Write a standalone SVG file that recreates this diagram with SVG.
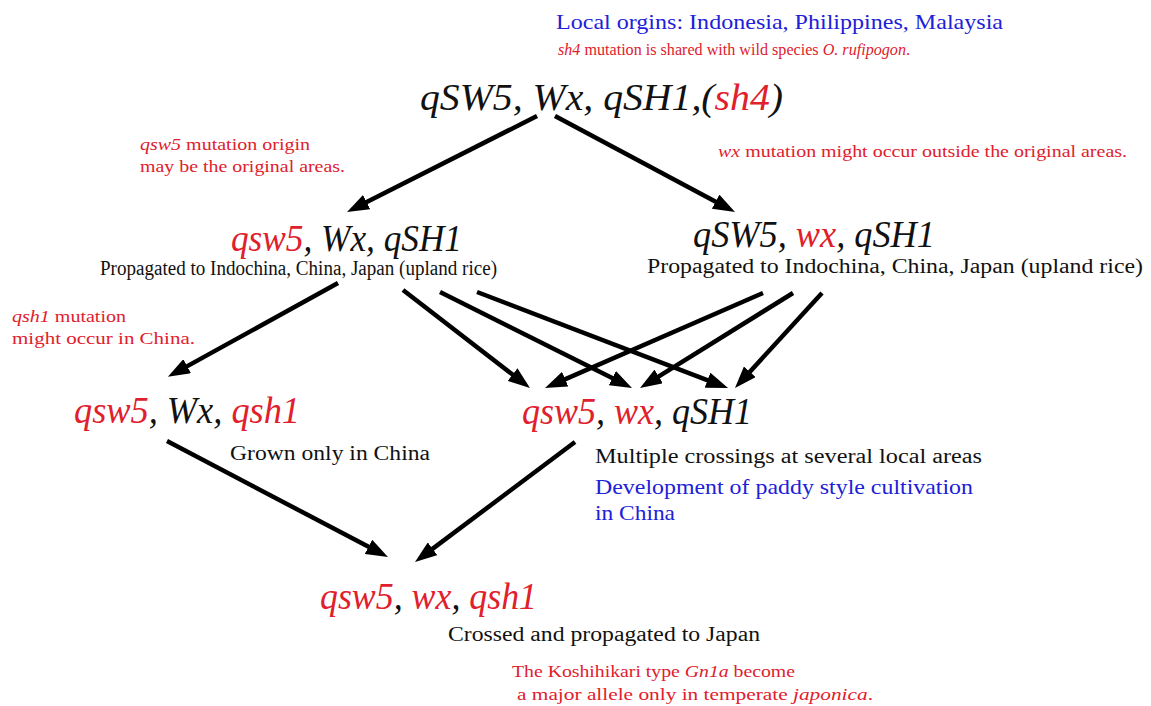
<svg xmlns="http://www.w3.org/2000/svg" width="1151" height="706" viewBox="0 0 1151 706" font-family="Liberation Serif, Times New Roman, Times, serif">
<style>
text{font-family:'Liberation Serif','Times New Roman',Times,serif;fill:#111}
.g{font-size:38px;font-style:italic}
.r{fill:#e0202c}
.b{fill:#2020d8}
.n{font-size:17px}
.d{font-size:20.5px}
.i{font-style:italic}
.c line{stroke:#000;stroke-width:4.5;marker-end:url(#ah)}
</style>
<defs>
<marker id="ah" viewBox="0 0 22 16" markerWidth="22" markerHeight="16" refX="6" refY="8" orient="auto" markerUnits="userSpaceOnUse">
<path d="M0,0 L22,8 L0,16 z" fill="#000"/>
</marker>
</defs>
<rect width="1151" height="706" fill="#fff"/>
<g id="notes">
<text x="556" y="29" class="b" font-size="22" textLength="447" lengthAdjust="spacingAndGlyphs">Local orgins: Indonesia, Philippines, Malaysia</text>
<text x="558" y="55" class="r n" textLength="352" lengthAdjust="spacingAndGlyphs"><tspan class="i">sh4</tspan> mutation is shared with wild species <tspan class="i">O. rufipogon</tspan>.</text>
<text x="140" y="150" class="r n" textLength="170" lengthAdjust="spacingAndGlyphs"><tspan class="i">qsw5</tspan> mutation origin</text>
<text x="140" y="172" class="r n" textLength="205" lengthAdjust="spacingAndGlyphs">may be the original areas.</text>
<text x="718" y="157" class="r n" textLength="409" lengthAdjust="spacingAndGlyphs"><tspan class="i">wx</tspan> mutation might occur outside the original areas.</text>
<text x="12" y="322" class="r n" textLength="114" lengthAdjust="spacingAndGlyphs"><tspan class="i">qsh1</tspan> mutation</text>
<text x="12" y="344" class="r n" textLength="183" lengthAdjust="spacingAndGlyphs">might occur in China.</text>
<text x="512" y="677" class="r n" textLength="283" lengthAdjust="spacingAndGlyphs">The Koshihikari type <tspan class="i">Gn1a</tspan> become</text>
<text x="517" y="700" class="r n" textLength="356" lengthAdjust="spacingAndGlyphs">a major allele only in temperate <tspan class="i">japonica</tspan>.</text>
</g>
<g id="n-top">
<text x="420" y="110" class="g" textLength="363" lengthAdjust="spacingAndGlyphs">qSW5, Wx, qSH1,(<tspan class="r">sh4</tspan>)</text>
</g>
<g id="n-left2">
<text x="231" y="251" class="g" textLength="231" lengthAdjust="spacingAndGlyphs"><tspan class="r">qsw5</tspan>, Wx, qSH1</text>
<text x="100" y="275" class="d" textLength="397" lengthAdjust="spacingAndGlyphs">Propagated to Indochina, China, Japan (upland rice)</text>
</g>
<g id="n-right2">
<text x="693" y="247" class="g" textLength="242" lengthAdjust="spacingAndGlyphs">qSW5, <tspan class="r">wx</tspan>, qSH1</text>
<text x="647" y="273" class="d" textLength="496" lengthAdjust="spacingAndGlyphs">Propagated to Indochina, China, Japan (upland rice)</text>
</g>
<g id="n-left3">
<text x="74" y="423" class="g" textLength="226" lengthAdjust="spacingAndGlyphs"><tspan class="r">qsw5</tspan>, Wx, <tspan class="r">qsh1</tspan></text>
<text x="230" y="460" class="d" textLength="200" lengthAdjust="spacingAndGlyphs">Grown only in China</text>
</g>
<g id="n-right3">
<text x="522" y="424" class="g" textLength="230" lengthAdjust="spacingAndGlyphs"><tspan class="r">qsw5</tspan>, <tspan class="r">wx</tspan>, qSH1</text>
<text x="595" y="463" class="d" textLength="387" lengthAdjust="spacingAndGlyphs">Multiple crossings at several local areas</text>
<text x="595" y="494" class="b" font-size="22" textLength="378" lengthAdjust="spacingAndGlyphs">Development of paddy style cultivation</text>
<text x="595" y="520" class="b" font-size="22" textLength="80" lengthAdjust="spacingAndGlyphs">in China</text>
</g>
<g id="n-bottom">
<text x="320" y="609" class="g" textLength="217" lengthAdjust="spacingAndGlyphs"><tspan class="r">qsw5</tspan>, <tspan class="r">wx</tspan>, <tspan class="r">qsh1</tspan></text>
<text x="448" y="641" class="d" textLength="312" lengthAdjust="spacingAndGlyphs">Crossed and propagated to Japan</text>
</g>
<g id="connectors" class="c">
<line x1="537" y1="116" x2="361.3" y2="204.8"/>
<line x1="555" y1="116" x2="720.9" y2="204.5"/>
<line x1="338" y1="283" x2="181.9" y2="369.1"/>
<line x1="403" y1="290" x2="517.3" y2="378.2"/>
<line x1="440" y1="292" x2="617.7" y2="380.8"/>
<line x1="477" y1="292" x2="713.1" y2="382.3"/>
<line x1="763" y1="293" x2="559.7" y2="381.6"/>
<line x1="793" y1="293" x2="653.6" y2="379.6"/>
<line x1="822" y1="293" x2="745.8" y2="376.2"/>
<line x1="167" y1="441" x2="373.8" y2="549.6"/>
<line x1="575" y1="442" x2="427.8" y2="552.4"/>
</g>
</svg>
